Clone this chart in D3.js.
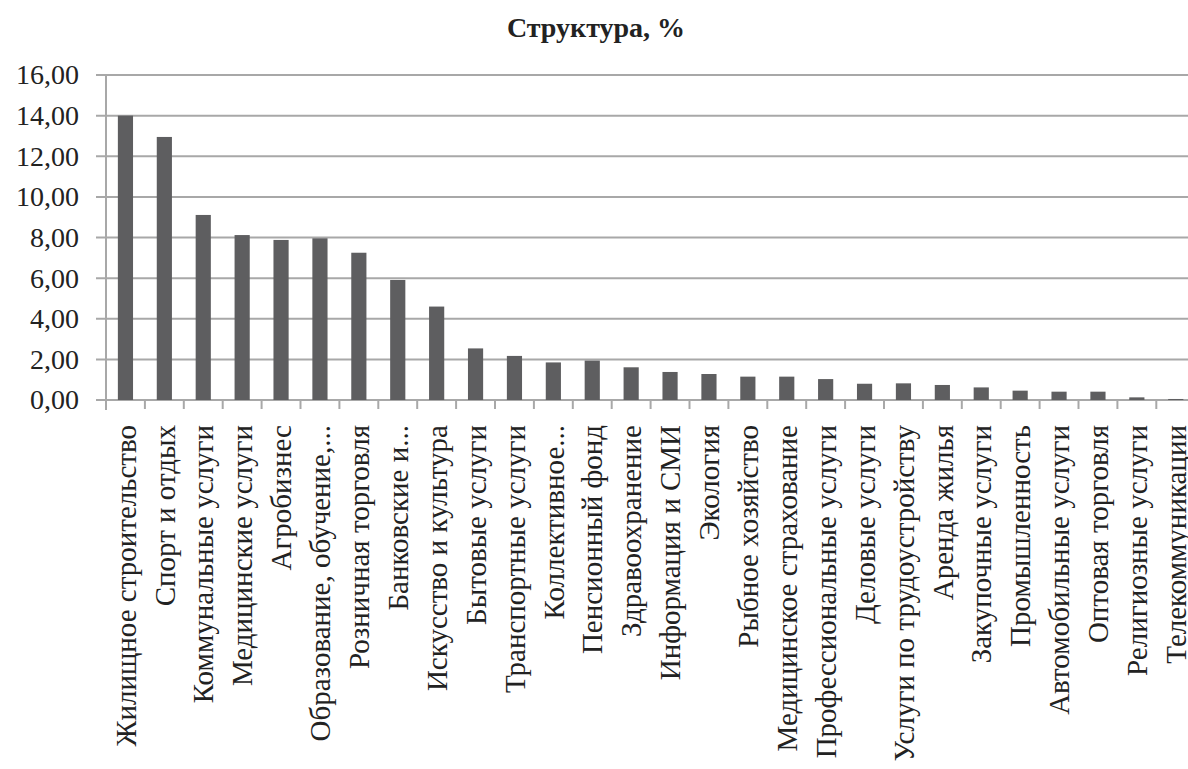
<!DOCTYPE html>
<html>
<head>
<meta charset="utf-8">
<script src="https://cdn.jsdelivr.net/npm/d3@7"></script>
<style>
  body { margin: 0; background: #fff; }
  svg { display: block; }
  text { font-family: "Times New Roman", "Liberation Serif", "DejaVu Serif", serif; fill: #222; }
</style>
</head>
<body>
<svg id="chart"></svg>
<script>
// categories and shares
var categories = [
    "Жилищное строительство", "Спорт и отдых", "Коммунальные услуги",
    "Медицинские услуги", "Агробизнес", "Образование, обучение,...",
    "Розничная торговля", "Банковские и...", "Искусство и культура",
    "Бытовые услуги", "Транспортные услуги", "Коллективное...",
    "Пенсионный фонд", "Здравоохранение", "Информация и СМИ",
    "Экология", "Рыбное хозяйство", "Медицинское страхование",
    "Профессиональные услуги", "Деловые услуги", "Услуги по трудоустройству",
    "Аренда жилья", "Закупочные услуги", "Промышленность",
    "Автомобильные услуги", "Оптовая торговля", "Религиозные услуги",
    "Телекоммуникации"
];
var shares = [
    14.0, 12.95, 9.11, 8.12, 7.88, 7.96, 7.25, 5.91, 4.6, 2.54,
    2.17, 1.85, 1.94, 1.61, 1.38, 1.28, 1.15, 1.15, 1.03, 0.80,
    0.82, 0.74, 0.62, 0.46, 0.41, 0.41, 0.13, 0.05
];
var yTicks = [0, 2, 4, 6, 8, 10, 12, 14, 16];
var title = "Структура, %";

var width = 1188, height = 769;
var mLeft = 106, mTop = 75, mBottom = 400;
var mRight = mLeft + categories.length * 38.9;

var svg = d3.select("#chart")
    .attr("width", width)
    .attr("height", height);

var x = d3.scaleBand()
    .domain(categories)
    .range([mLeft, mRight])
    .paddingInner(0.61)
    .paddingOuter(0.305);

var xb = d3.scaleBand()  // band boundaries for tick marks
    .domain(categories)
    .range([mLeft, mRight]);

var y = d3.scaleLinear()
    .domain([0, 16])
    .range([mBottom, mTop]);

var fmt = function (d) { return d3.format(".2f")(d).replace(".", ","); };

// gridlines
svg.append("g")
    .selectAll("line")
    .data(yTicks)
    .enter()
    .append("line")
    .attr("x1", mLeft - 10)
    .attr("x2", width)
    .attr("y1", d => y(d))
    .attr("y2", d => y(d))
    .style("stroke", "#a8a8a8")
    .style("stroke-width", 2);

// y axis labels
var yAxis = d3.axisLeft(y)
    .tickValues(yTicks)
    .tickFormat(fmt)
    .tickSize(0)
    .tickPadding(27);

svg.append("g")
    .attr("transform", "translate(" + mLeft + ",0)")
    .call(yAxis)
    .call(g => g.select(".domain").remove())
    .selectAll("text")
    .attr("font-family", null)
    .style("font-size", "28px")
    .style("fill", "#222");

// left axis line
svg.append("line")
    .attr("x1", mLeft).attr("x2", mLeft)
    .attr("y1", mTop).attr("y2", mBottom + 10)
    .style("stroke", "#a8a8a8")
    .style("stroke-width", 2);

// x tick marks at band boundaries
svg.append("g")
    .selectAll("line")
    .data(categories.slice(1))
    .enter()
    .append("line")
    .attr("x1", d => xb(d))
    .attr("x2", d => xb(d))
    .attr("y1", mBottom)
    .attr("y2", mBottom + 9)
    .style("stroke", "#a8a8a8")
    .style("stroke-width", 2);

// bars
svg.append("g")
    .selectAll("rect")
    .data(shares)
    .enter()
    .append("rect")
    .attr("x", (d, i) => x(categories[i]))
    .attr("width", x.bandwidth())
    .attr("y", d => y(d))
    .attr("height", d => mBottom - y(d))
    .attr("fill", "#5e5e60");

// x labels, rotated
svg.append("g")
    .selectAll("text")
    .data(categories)
    .enter()
    .append("text")
    .attr("transform", d => "translate(" + (x(d) + x.bandwidth() / 2) + "," + (mBottom + 25) + ") rotate(-90)")
    .attr("text-anchor", "end")
    .attr("dy", "0.35em")
    .style("font-size", "29px")
    .text(d => d);

// title
svg.append("text")
    .attr("x", 596)
    .attr("y", 37)
    .attr("text-anchor", "middle")
    .style("font-size", "28px")
    .style("font-weight", "bold")
    .text(title);
</script>
</body>
</html>
